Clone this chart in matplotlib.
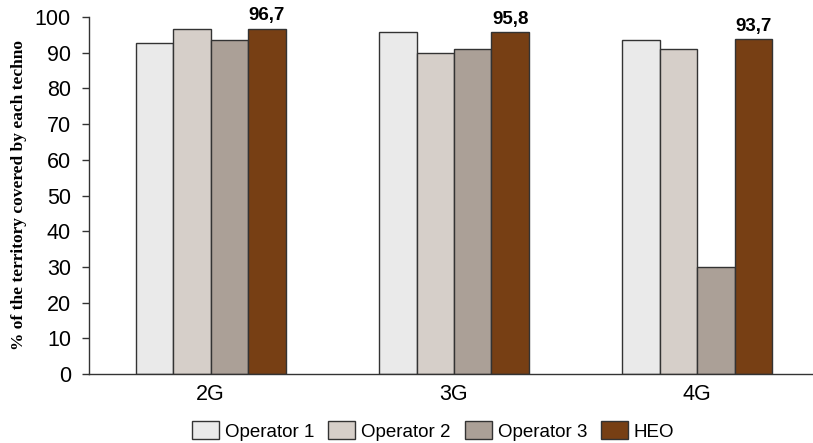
import numpy as np
import matplotlib
matplotlib.use("Agg")
import matplotlib.pyplot as plt

# data
techs = ["2G", "3G", "4G"]
operators = ["Operator 1", "Operator 2", "Operator 3", "HEO"]
op1 = [92.6, 95.8, 93.6]
op2 = [96.7, 90.0, 91.0]
op3 = [93.6, 91.0, 30.0]
heo = [96.7, 95.8, 93.7]
heo_labels = ["96,7", "95,8", "93,7"]

colors = ["#EAEAEA", "#D6CFC9", "#ABA097", "#773F14"]

plt.rcParams["font.family"] = ["Liberation Sans", "DejaVu Sans"]

fig = plt.figure(figsize=(8.13, 4.43), dpi=100)
ax = fig.add_axes([89 / 813, 1 - 374 / 443, 730 / 813, 357 / 443])

x = np.arange(len(techs))
w = 0.154
series = [op1, op2, op3, heo]
for i, (vals, name, c) in enumerate(zip(series, operators, colors)):
    ax.bar(x + (i - 1.5) * w, vals, width=w, color=c, edgecolor="#333333",
           linewidth=1.0, label=name)

for xi, v, lab in zip(x, heo, heo_labels):
    ax.text(xi + 1.5 * w, v + 1.2, lab, ha="center", va="bottom",
            fontsize=13.5, fontweight="bold")

ax.set_xlim(-0.5, 2.5)
ax.set_ylim(0, 100)
ax.set_yticks(range(0, 101, 10))
ax.set_xticks(x)
ax.set_xticklabels(techs)
ax.tick_params(axis="y", labelsize=15.5, length=5, width=1, color="#333333", pad=8)
ax.tick_params(axis="x", labelsize=15.5, length=0, pad=7)
for s in ["top", "right"]:
    ax.spines[s].set_visible(False)
for s in ["left", "bottom"]:
    ax.spines[s].set_color("#333333")
    ax.spines[s].set_linewidth(1.0)
ax.spines["bottom"].set_clip_on(False)

ax.set_ylabel("% of the territory covered by each techno",
              family=["Liberation Serif", "DejaVu Serif"], fontweight="bold",
              fontsize=12.5)
ax.yaxis.set_label_coords(-0.085, 0.5)

fig.legend(loc="center", bbox_to_anchor=(433 / 813, 1 - 431 / 443), ncol=4,
           frameon=False, fontsize=13.5, handlelength=1.44, handleheight=1.07,
           handletextpad=0.32, columnspacing=0.75, borderpad=0)

fig.savefig("out.png", dpi=100)
